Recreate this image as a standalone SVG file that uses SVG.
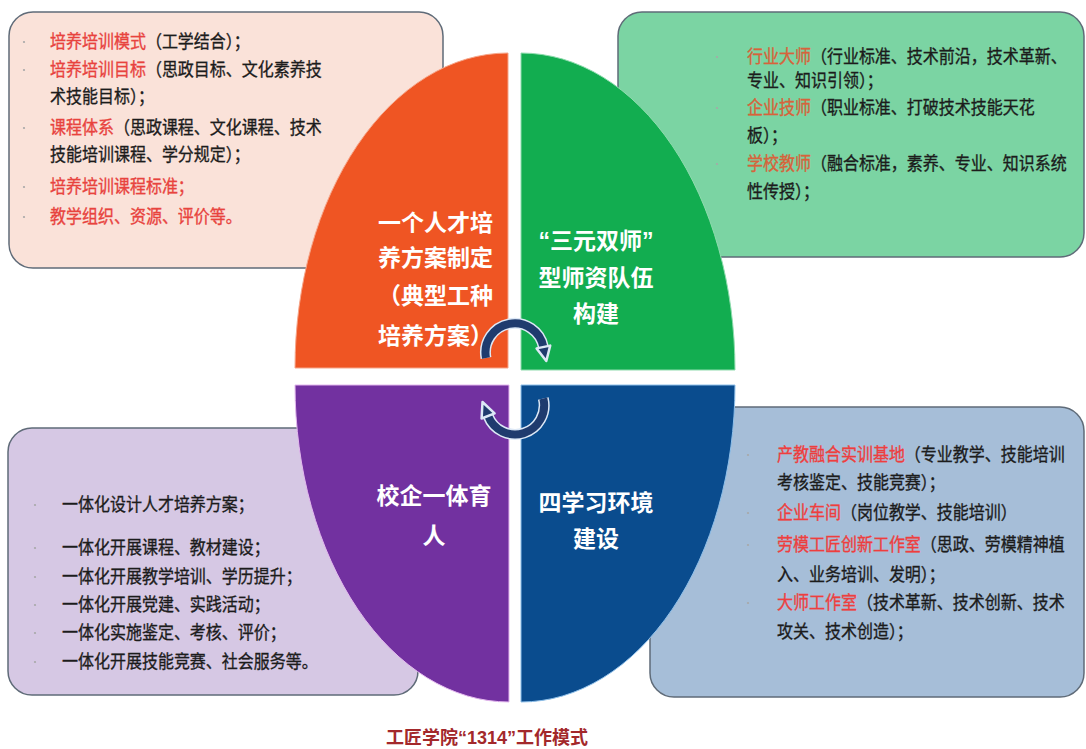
<svg xmlns="http://www.w3.org/2000/svg" width="1086" height="749" viewBox="0 0 1086 749">
<style>
.box{stroke:#5f6b78;stroke-width:1.5}
.t{font-family:"Noto Sans CJK SC",sans-serif;font-size:16px;fill:#1c1c1c;stroke:#1c1c1c;stroke-width:0.3}
.r1{fill:#E8433E;stroke:#E8433E}
.r2{fill:#D8623A;stroke:#D8623A}
.r3{fill:#EE3E3E;stroke:#EE3E3E}
.lbl{font-family:"Liberation Sans","Noto Sans CJK SC",sans-serif;font-size:23px;font-weight:bold;fill:#ffffff}
.dot{fill:#a8a8a8}
.band-o{fill:none;stroke:#dde8f6;stroke-width:11}
.band{fill:none;stroke:#1F3B6E;stroke-width:8}
.head-o{fill:#1F3B6E;stroke:#dde8f6;stroke-width:2.5;stroke-linejoin:round}
.title{font-family:"Liberation Sans","Noto Sans CJK SC",sans-serif;font-size:18px;font-weight:bold;fill:#A3282B}
</style>
<rect width="1086" height="749" fill="#ffffff"/>

<g id="box-tl">
<rect class="box" x="9" y="12" width="434" height="256" rx="24" fill="#FAE2D9"/>
<circle class="dot" cx="24" cy="42" r="1.1"/>
<circle class="dot" cx="24" cy="70" r="1.1"/>
<circle class="dot" cx="24" cy="128" r="1.1"/>
<circle class="dot" cx="24" cy="187" r="1.1"/>
<circle class="dot" cx="24" cy="217" r="1.1"/>
<text class="t" transform="translate(50,48) scale(1,1.12)"><tspan class="r1">培养培训模式</tspan>（工学结合）；</text>
<text class="t" transform="translate(50,76) scale(1,1.12)"><tspan class="r1">培养培训目标</tspan>（思政目标、文化素养技</text>
<text class="t" transform="translate(50,103) scale(1,1.12)">术技能目标）；</text>
<text class="t" transform="translate(50,134) scale(1,1.12)"><tspan class="r1">课程体系</tspan>（思政课程、文化课程、技术</text>
<text class="t" transform="translate(50,161) scale(1,1.12)">技能培训课程、学分规定）；</text>
<text class="t r1" transform="translate(50,193) scale(1,1.12)">培养培训课程标准；</text>
<text class="t r1" transform="translate(50,223) scale(1,1.12)">教学组织、资源、评价等。</text>
</g>

<g id="box-tr">
<rect class="box" x="618" y="12" width="466" height="245" rx="24" fill="#7BD4A3"/>
<circle class="dot" cx="717" cy="57" r="1.1"/>
<circle class="dot" cx="717" cy="108" r="1.1"/>
<circle class="dot" cx="717" cy="164" r="1.1"/>
<text class="t" transform="translate(747,63) scale(1,1.12)"><tspan class="r2">行业大师</tspan>（行业标准、技术前沿，技术革新、</text>
<text class="t" transform="translate(747,87) scale(1,1.12)">专业、知识引领）；</text>
<text class="t" transform="translate(747,114) scale(1,1.12)"><tspan class="r2">企业技师</tspan>（职业标准、打破技术技能天花</text>
<text class="t" transform="translate(747,142) scale(1,1.12)">板）；</text>
<text class="t" transform="translate(747,170) scale(1,1.12)"><tspan class="r2">学校教师</tspan>（融合标准，素养、专业、知识系统</text>
<text class="t" transform="translate(747,198) scale(1,1.12)">性传授）；</text>
</g>

<g id="box-bl">
<rect class="box" x="8" y="428" width="410" height="267" rx="24" fill="#D6C8E4"/>
<circle class="dot" cx="35" cy="505" r="1.1"/>
<circle class="dot" cx="35" cy="548" r="1.1"/>
<circle class="dot" cx="35" cy="577" r="1.1"/>
<circle class="dot" cx="35" cy="605" r="1.1"/>
<circle class="dot" cx="35" cy="633" r="1.1"/>
<circle class="dot" cx="35" cy="662" r="1.1"/>
<text class="t" transform="translate(62,511) scale(1,1.12)">一体化设计人才培养方案；</text>
<text class="t" transform="translate(62,554) scale(1,1.12)">一体化开展课程、教材建设；</text>
<text class="t" transform="translate(62,583) scale(1,1.12)">一体化开展教学培训、学历提升；</text>
<text class="t" transform="translate(62,611) scale(1,1.12)">一体化开展党建、实践活动；</text>
<text class="t" transform="translate(62,639) scale(1,1.12)">一体化实施鉴定、考核、评价；</text>
<text class="t" transform="translate(62,668) scale(1,1.12)">一体化开展技能竞赛、社会服务等。</text>
</g>

<g id="box-br">
<rect class="box" x="650" y="407" width="434" height="290" rx="24" fill="#A6BED8"/>
<circle class="dot" cx="748" cy="455" r="1.1"/>
<circle class="dot" cx="748" cy="513" r="1.1"/>
<circle class="dot" cx="748" cy="545" r="1.1"/>
<circle class="dot" cx="748" cy="603" r="1.1"/>
<text class="t" transform="translate(777,461) scale(1,1.12)"><tspan class="r3">产教融合实训基地</tspan>（专业教学、技能培训</text>
<text class="t" transform="translate(777,489) scale(1,1.12)">考核鉴定、技能竞赛）；</text>
<text class="t" transform="translate(777,519) scale(1,1.12)"><tspan class="r3">企业车间</tspan>（岗位教学、技能培训）</text>
<text class="t" transform="translate(777,551) scale(1,1.12)"><tspan class="r3">劳模工匠创新工作室</tspan>（思政、劳模精神植</text>
<text class="t" transform="translate(777,581) scale(1,1.12)">入、业务培训、发明）；</text>
<text class="t" transform="translate(777,609) scale(1,1.12)"><tspan class="r3">大师工作室</tspan>（技术革新、技术创新、技术</text>
<text class="t" transform="translate(777,638) scale(1,1.12)">攻关、技术创造）；</text>
</g>

<g id="q-orange">
<path d="M508 368 L295 368 A213 315 0 0 1 508 53 Z" fill="#EF5523" stroke="#f6a68a" stroke-width="1"/>
<text class="lbl" x="378" y="231">一个人才培</text>
<text class="lbl" x="378" y="266">养方案制定</text>
<text class="lbl" x="378" y="304">（典型工种</text>
<text class="lbl" x="378" y="344">培养方案）</text>
</g>
<g id="q-green">
<path d="M521 370 L521 53 A214 317 0 0 1 735 370 Z" fill="#12AD50" stroke="#8fdcae" stroke-width="1"/>
<text class="lbl" x="596" y="249" text-anchor="middle">“三元双师”</text>
<text class="lbl" x="596" y="286" text-anchor="middle">型师资队伍</text>
<text class="lbl" x="596" y="322" text-anchor="middle">构建</text>
</g>
<g id="q-purple">
<path d="M509 385 L509 702 A214 317 0 0 1 295 385 Z" fill="#7231A0" stroke="#e3b8ee" stroke-width="1"/>
<text class="lbl" x="434" y="504" text-anchor="middle">校企一体育</text>
<text class="lbl" x="434" y="544" text-anchor="middle">人</text>
</g>
<g id="q-blue">
<path d="M521 385 L735 385 A214 317 0 0 1 521 702 Z" fill="#0A4C8E" stroke="#8fc0ea" stroke-width="1"/>
<text class="lbl" x="596" y="511" text-anchor="middle">四学习环境</text>
<text class="lbl" x="596" y="547" text-anchor="middle">建设</text>
</g>

<g id="connectors">
<path class="band-o" d="M486 358 A29 29 0 0 1 543.4 347"/>
<path class="band-o" d="M543.3 398.5 A29 29 0 0 1 488.1 415.9"/>
<path class="band" d="M486 358 A29 29 0 0 1 543.4 347"/>
<polygon class="head-o" points="536.6,348.4 550.2,345.6 546.3,361"/>
<path class="band" d="M543.3 398.5 A29 29 0 0 1 488.1 415.9"/>
<polygon class="head-o" points="494.6,413.3 481.6,418.5 482.5,402"/>
</g>

<text class="title" x="487" y="744" text-anchor="middle">工匠学院“1314”工作模式</text>
</svg>
